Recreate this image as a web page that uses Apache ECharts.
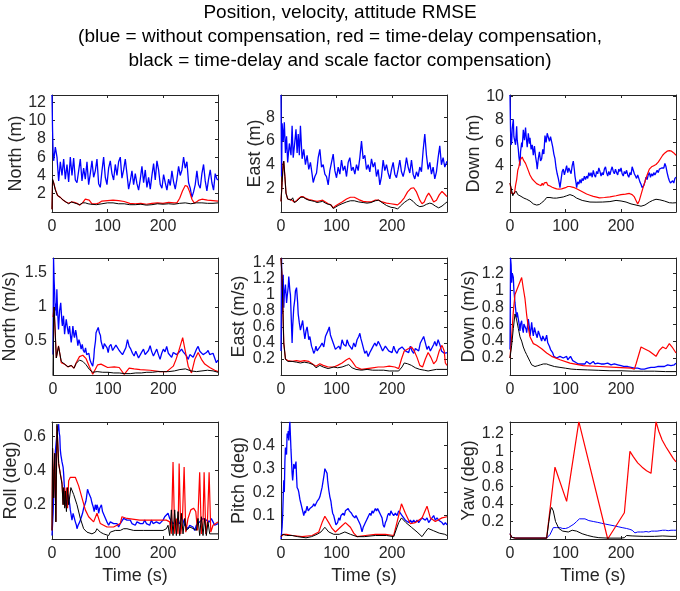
<!DOCTYPE html>
<html><head><meta charset="utf-8">
<script src="https://cdn.jsdelivr.net/npm/echarts@6/dist/echarts.min.js"></script>
<style>html,body{margin:0;padding:0;background:#fff}#c{width:680px;height:591px}</style>
</head><body><div id="c"></div>
<script>
// ---------------- DATA ----------------
const titleLines = [
  'Position, velocity, attitude RMSE',
  '(blue = without compensation, red = time-delay compensation,',
  'black = time-delay and scale factor compensation)'
];
const panelNames = ['North (m)','East (m)','Down (m)','North (m/s)','East (m/s)','Down (m/s)','Roll (deg)','Pitch (deg)','Yaw (deg)'];
const xLabel = 'Time (s)';
const xMax = 299, xStep = 100;
const yMax  = [12.8, 9.9, 10.1, 1.72, 1.46, 1.38, 0.683, 0.499, 1.336];
const yStep = [2, 2, 2, 0.5, 0.2, 0.2, 0.2, 0.1, 0.2];

// North position (m)
const northPosBlue = [[0,12.8],[1,9.0],[2,6.5],[3,5.6],[6,7.1],[9,6.0],[12,3.4],[15,5.5],[18,4.0],[21,5.8],[24,3.6],[27,5.2],[30,3.3],[33,6.0],[36,4.0],[39,5.9],[42,3.5],[45,3.2],[48,4.5],[51,5.8],[54,3.4],[57,4.8],[60,3.6],[63,5.5],[66,3.0],[69,4.2],[72,5.6],[75,3.8],[78,4.5],[81,5.8],[84,3.1],[87,2.7],[90,4.5],[93,6.0],[96,3.8],[99,3.0],[102,4.8],[105,5.6],[108,4.2],[111,3.5],[114,5.2],[117,4.0],[120,5.5],[123,6.0],[126,3.7],[129,4.6],[132,5.8],[135,4.2],[138,2.5],[141,3.4],[144,4.5],[147,3.0],[150,4.2],[153,3.1],[156,2.4],[159,3.6],[162,5.0],[165,3.2],[168,4.6],[171,2.7],[174,3.8],[177,2.5],[180,4.0],[183,5.3],[186,3.5],[189,5.6],[192,4.6],[195,3.0],[198,2.6],[201,4.1],[204,3.2],[207,2.4],[210,3.6],[213,2.9],[216,4.5],[219,3.3],[222,2.5],[225,3.6],[228,5.0],[231,4.0],[234,4.6],[237,6.0],[240,4.8],[243,5.5],[246,3.2],[249,2.6],[252,1.6],[255,2.2],[258,3.0],[261,4.5],[264,3.0],[267,2.6],[270,4.2],[273,5.2],[276,3.4],[279,2.3],[282,3.6],[285,4.6],[288,3.2],[291,2.4],[294,4.2],[297,3.6],[299,3.5]];
const northPosRed = [[0,0.3],[1,3.5],[3,3.2],[6,2.5],[10,1.8],[15,1.6],[20,1.3],[25,1.1],[30,0.95],[35,1.1],[40,1.05],[45,0.95],[50,0.75],[55,1.0],[60,1.4],[63,1.5],[67,1.3],[72,0.9],[80,0.9],[85,1.0],[90,1.2],[100,1.25],[110,1.3],[120,1.25],[130,1.15],[140,0.95],[150,0.9],[160,0.95],[170,0.85],[180,0.95],[190,1.0],[200,0.95],[210,1.05],[220,1.0],[225,1.0],[230,1.5],[235,2.3],[240,2.9],[244,2.8],[248,2.2],[252,1.4],[256,1.0],[260,1.1],[265,1.3],[270,1.4],[280,1.3],[290,1.25],[299,1.2]];
const northPosBlack = [[0,0.3],[1,3.6],[3,3.2],[6,2.4],[10,1.8],[15,1.6],[20,1.3],[25,1.1],[30,0.9],[35,1.1],[40,1.0],[45,0.9],[50,0.8],[55,1.0],[60,1.0],[65,0.9],[70,0.85],[80,0.8],[90,0.9],[100,1.0],[110,1.0],[120,0.9],[130,0.9],[140,0.8],[150,0.8],[160,0.85],[170,0.75],[180,0.8],[190,0.9],[200,0.85],[210,0.9],[220,0.85],[230,0.95],[240,1.0],[250,0.9],[260,1.0],[270,1.0],[280,0.95],[290,0.95],[299,1.0]];

// East position (m)
const eastPosBlue = [[0,9.9],[1,3.0],[2,7.5],[4,6.0],[6,7.6],[8,5.0],[10,6.4],[12,4.2],[15,5.8],[18,4.8],[20,7.3],[22,4.6],[25,6.0],[27,7.0],[29,5.0],[31,6.6],[33,4.8],[35,7.3],[38,4.5],[41,5.3],[44,4.0],[47,4.8],[50,3.6],[53,4.2],[56,3.2],[58,2.5],[61,3.0],[64,3.3],[67,4.6],[70,5.3],[73,3.8],[76,4.0],[79,3.2],[82,3.0],[85,2.3],[88,3.5],[91,4.2],[94,4.9],[97,3.5],[100,2.9],[103,3.8],[106,3.2],[109,4.4],[112,3.5],[115,3.9],[118,3.0],[121,4.2],[124,4.6],[127,3.5],[130,3.8],[133,3.2],[136,4.0],[139,3.5],[142,4.6],[145,6.0],[148,4.5],[151,4.8],[154,3.6],[157,4.0],[160,3.4],[163,4.5],[166,3.8],[169,4.2],[172,3.0],[175,3.6],[178,2.3],[181,3.0],[184,4.4],[187,3.5],[190,4.0],[193,3.3],[196,2.8],[199,3.6],[202,4.2],[205,3.2],[208,2.9],[211,3.6],[214,4.4],[217,3.4],[220,3.0],[223,3.6],[226,4.6],[229,3.8],[232,3.3],[235,4.4],[238,3.2],[241,2.8],[244,3.4],[247,3.0],[250,3.8],[253,3.4],[256,5.2],[259,6.6],[262,4.8],[265,3.6],[268,4.2],[271,3.2],[274,3.8],[277,2.8],[280,3.4],[283,4.6],[286,5.6],[289,4.0],[292,4.6],[295,3.8],[299,4.3]];
const eastPosRed = [[0,0.9],[2,2.5],[4,4.1],[5,4.3],[7,3.0],[9,1.6],[12,1.1],[15,1.1],[18,1.05],[21,1.2],[24,0.85],[28,0.95],[32,1.15],[36,1.3],[40,1.3],[45,1.15],[50,1.05],[55,1.0],[60,0.95],[65,0.9],[70,0.95],[75,1.0],[80,0.85],[85,0.7],[90,0.6],[94,0.35],[98,0.5],[103,0.65],[110,0.85],[118,1.1],[125,1.25],[132,1.25],[140,1.05],[148,0.9],[155,0.85],[162,0.85],[170,1.0],[176,1.0],[182,0.85],[190,0.75],[198,0.7],[205,0.65],[210,0.6],[215,0.8],[222,1.2],[228,1.7],[234,2.0],[239,2.05],[244,1.7],[250,1.0],[254,0.7],[258,0.85],[262,1.3],[266,1.6],[270,1.3],[275,0.85],[280,1.0],[285,1.45],[290,1.75],[295,1.5],[299,1.3]];
const eastPosBlack = [[0,0.9],[2,2.5],[4,4.1],[5,4.3],[7,3.0],[9,1.6],[12,1.1],[15,1.1],[18,1.0],[21,1.2],[24,0.8],[28,0.9],[32,1.1],[36,1.25],[40,1.25],[45,1.1],[50,1.0],[55,0.95],[60,0.9],[65,0.8],[70,0.85],[75,0.9],[80,0.75],[85,0.65],[90,0.6],[94,0.3],[98,0.4],[103,0.55],[110,0.7],[118,0.85],[125,0.95],[132,0.95],[140,0.85],[148,0.8],[155,0.75],[162,0.8],[170,0.95],[176,1.0],[182,0.8],[190,0.55],[198,0.4],[205,0.35],[210,0.25],[215,0.5],[222,0.8],[228,1.0],[232,1.1],[238,0.9],[244,0.6],[250,0.45],[256,0.5],[262,0.65],[268,0.75],[272,0.7],[278,0.5],[284,0.35],[290,0.5],[295,0.7],[299,0.85]];

// Down position (m)
const downPosBlue = [[0,10.1],[1,7.0],[2,5.8],[3,6.0],[4,7.2],[6,8.0],[7,6.5],[9,6.6],[10,5.8],[12,7.4],[13,6.2],[15,5.4],[16,4.8],[18,4.0],[19,5.2],[21,6.0],[22,5.6],[24,7.1],[26,6.2],[28,7.3],[29,6.6],[31,5.6],[33,6.8],[35,5.9],[36,6.4],[38,5.4],[40,5.8],[42,4.9],[44,5.7],[46,4.8],[48,4.2],[49,3.7],[51,4.6],[53,5.2],[55,4.4],[57,4.6],[59,5.4],[61,5.0],[63,6.6],[65,6.0],[67,6.8],[69,6.9],[71,6.1],[73,6.5],[75,6.4],[77,5.6],[79,5.0],[81,4.6],[83,3.8],[85,3.3],[87,2.9],[89,2.4],[90,2.1],[92,2.8],[94,3.5],[96,3.7],[98,3.2],[100,3.6],[102,4.0],[104,3.4],[106,3.8],[108,3.7],[110,3.3],[112,4.0],[114,4.4],[116,3.6],[117,3.1],[119,2.5],[120,2.1],[122,2.6],[124,2.4],[126,2.8],[128,2.5],[130,2.9],[132,2.7],[134,3.1],[136,2.8],[138,3.1],[140,2.9],[142,3.4],[144,3.1],[146,3.4],[148,3.0],[150,3.6],[152,3.2],[154,3.0],[156,3.5],[158,3.3],[160,3.8],[162,3.5],[164,3.1],[166,3.4],[168,3.2],[170,3.7],[172,3.9],[174,3.4],[176,3.1],[178,3.5],[180,3.2],[182,3.6],[184,3.9],[186,3.5],[188,3.3],[190,3.7],[192,3.4],[194,3.2],[196,3.7],[198,3.5],[200,3.8],[202,3.3],[204,3.1],[206,3.5],[208,3.3],[210,3.6],[212,3.2],[214,3.0],[216,3.4],[218,3.2],[220,3.9],[222,3.6],[224,3.3],[226,3.1],[228,2.9],[230,3.2],[232,2.9],[234,2.6],[236,2.4],[238,2.1],[239,2.0],[241,2.3],[243,2.6],[245,3.0],[247,2.8],[249,3.2],[251,3.4],[253,3.0],[255,3.3],[257,3.1],[259,3.4],[261,3.2],[263,3.3],[265,3.6],[267,3.4],[269,3.7],[271,3.6],[273,3.8],[275,3.9],[277,3.8],[279,4.2],[281,3.9],[283,3.4],[285,3.0],[287,2.7],[289,2.5],[291,2.4],[293,2.7],[295,2.5],[297,2.9],[299,3.0]];
const downPosRed = [[0,2.5],[3,1.6],[6,1.5],[8,1.6],[10,2.3],[12,2.8],[14,3.6],[16,3.9],[18,4.45],[20,4.45],[22,4.75],[24,4.5],[26,4.6],[28,4.2],[30,4.15],[32,3.7],[34,3.65],[36,3.2],[38,3.2],[40,2.85],[42,2.95],[44,2.65],[46,2.75],[48,2.45],[50,2.6],[52,2.35],[54,2.5],[56,2.28],[58,2.48],[60,2.3],[62,2.52],[64,2.35],[66,2.55],[68,2.32],[70,2.46],[72,2.24],[74,2.35],[76,2.14],[78,2.26],[80,2.06],[82,2.18],[84,2.0],[86,2.12],[88,1.98],[90,2.1],[93,2.0],[96,2.1],[100,2.1],[104,2.2],[108,2.2],[112,2.15],[116,2.1],[120,2.0],[126,1.85],[132,1.7],[138,1.55],[144,1.45],[150,1.35],[156,1.28],[161,1.22],[170,1.25],[180,1.3],[191,1.4],[200,1.5],[208,1.55],[215,1.6],[220,1.5],[224,1.3],[227,1.0],[230,0.7],[233,1.0],[236,1.5],[239,2.0],[243,2.6],[247,3.2],[251,3.7],[255,3.9],[259,4.0],[263,4.1],[267,4.3],[271,4.6],[275,4.9],[279,5.1],[283,5.25],[287,5.3],[291,5.25],[295,5.1],[299,4.9]];
const downPosBlack = [[0,2.5],[2,2.1],[5,1.4],[7,1.6],[9,1.5],[11,1.8],[12,1.7],[14,1.5],[16,1.6],[18,1.4],[21,1.3],[25,1.2],[30,1.1],[36,0.95],[42,0.7],[48,0.6],[53,0.65],[57,0.8],[62,1.0],[66,1.25],[72,1.25],[78,1.2],[84,1.2],[90,1.25],[96,1.3],[102,1.4],[108,1.5],[114,1.4],[120,1.2],[130,1.0],[144,0.86],[155,0.85],[167,0.86],[180,0.9],[191,1.0],[200,0.95],[209,0.86],[218,0.7],[227,0.6],[236,0.5],[243,0.6],[251,0.85],[257,1.0],[263,1.1],[270,1.05],[278,0.95],[287,0.8],[293,0.78],[299,0.8]];

// North velocity (m/s)
const northVelBlue = [[0,0.3],[1,1.72],[2,1.4],[3,1.2],[4,0.95],[5,1.05],[6,0.87],[7,1.26],[8,1.0],[10,0.67],[12,0.95],[14,1.06],[16,0.8],[17,0.72],[19,0.87],[21,0.6],[22,0.68],[24,0.82],[26,0.7],[28,0.6],[30,0.72],[32,0.55],[33,0.48],[35,0.62],[36,0.72],[38,0.58],[39,0.55],[41,0.66],[42,0.62],[44,0.5],[45,0.43],[47,0.52],[49,0.46],[51,0.38],[53,0.45],[55,0.36],[57,0.33],[59,0.4],[61,0.3],[63,0.28],[65,0.32],[67,0.22],[69,0.18],[71,0.2],[72,0.13],[74,0.26],[75,0.38],[77,0.5],[78,0.62],[80,0.66],[82,0.7],[84,0.62],[86,0.58],[87,0.5],[89,0.44],[91,0.38],[93,0.46],[96,0.48],[98,0.4],[100,0.33],[102,0.42],[105,0.45],[108,0.36],[111,0.38],[114,0.44],[117,0.45],[120,0.36],[123,0.33],[126,0.3],[129,0.28],[132,0.4],[135,0.52],[138,0.42],[141,0.38],[144,0.32],[147,0.28],[150,0.35],[152,0.33],[155,0.25],[158,0.26],[161,0.34],[164,0.38],[167,0.3],[170,0.28],[173,0.36],[176,0.43],[179,0.34],[182,0.28],[185,0.33],[188,0.38],[191,0.3],[194,0.23],[197,0.32],[200,0.38],[203,0.34],[206,0.42],[209,0.32],[212,0.3],[215,0.26],[218,0.33],[221,0.35],[224,0.3],[227,0.28],[230,0.35],[233,0.38],[236,0.34],[239,0.33],[242,0.28],[245,0.23],[248,0.3],[251,0.3],[254,0.26],[257,0.32],[260,0.38],[263,0.42],[266,0.35],[269,0.36],[272,0.3],[275,0.28],[278,0.33],[281,0.36],[284,0.3],[287,0.28],[290,0.32],[293,0.3],[296,0.18],[299,0.22]];
const northVelRed = [[0,0.85],[2,1.0],[6,0.25],[10,0.43],[15,0.18],[21,0.16],[27,0.12],[33,0.14],[38,0.1],[42,0.18],[48,0.27],[54,0.29],[60,0.24],[66,0.12],[72,0.01],[81,0.15],[87,0.16],[99,0.11],[111,0.12],[120,0.11],[129,0.01],[138,0.1],[147,0.09],[158,0.08],[176,0.07],[194,0.05],[206,0.05],[212,0.09],[218,0.13],[223,0.23],[227,0.33],[235,0.55],[239,0.38],[245,0.13],[251,0.03],[257,0.23],[263,0.33],[269,0.23],[275,0.16],[284,0.11],[293,0.07],[299,0.05]];
const northVelBlack = [[0,0.0],[1,0.85],[2,1.0],[6,0.25],[10,0.42],[15,0.2],[21,0.16],[27,0.12],[33,0.14],[38,0.1],[42,0.17],[48,0.22],[54,0.2],[60,0.15],[66,0.08],[72,0.04],[80,0.05],[90,0.04],[100,0.04],[110,0.03],[120,0.03],[130,0.02],[140,0.02],[150,0.03],[160,0.03],[170,0.04],[180,0.04],[190,0.05],[200,0.05],[210,0.05],[220,0.06],[230,0.08],[240,0.09],[250,0.06],[260,0.05],[270,0.06],[280,0.07],[290,0.06],[299,0.04]];

// East velocity (m/s)
const eastVelBlue = [[0,0.3],[1,1.46],[2,0.76],[3,1.1],[4,1.25],[5,0.84],[6,1.0],[8,1.13],[10,0.9],[11,0.97],[13,1.1],[14,1.23],[16,1.05],[17,1.0],[18,0.8],[20,0.4],[21,0.6],[23,0.84],[25,0.95],[26,1.05],[28,1.09],[30,0.9],[31,0.76],[33,0.65],[35,0.56],[37,0.62],[39,0.68],[41,0.55],[43,0.45],[45,0.55],[47,0.6],[49,0.5],[50,0.44],[52,0.48],[55,0.36],[57,0.32],[59,0.27],[61,0.3],[63,0.36],[65,0.3],[68,0.32],[71,0.36],[74,0.4],[77,0.35],[80,0.48],[83,0.5],[85,0.56],[87,0.6],[89,0.5],[92,0.44],[95,0.38],[98,0.32],[101,0.3],[104,0.36],[107,0.32],[110,0.44],[113,0.38],[115,0.4],[117,0.36],[119,0.44],[122,0.38],[125,0.36],[128,0.32],[131,0.4],[134,0.35],[137,0.44],[140,0.48],[142,0.52],[144,0.45],[146,0.4],[149,0.32],[151,0.27],[154,0.3],[157,0.23],[160,0.28],[163,0.32],[166,0.36],[169,0.4],[172,0.36],[175,0.42],[178,0.38],[180,0.35],[183,0.3],[185,0.32],[188,0.36],[191,0.35],[194,0.3],[197,0.32],[200,0.28],[203,0.36],[206,0.3],[209,0.27],[212,0.32],[215,0.3],[218,0.35],[221,0.36],[224,0.3],[227,0.32],[230,0.28],[233,0.36],[236,0.3],[239,0.27],[242,0.33],[245,0.34],[248,0.3],[251,0.4],[254,0.42],[257,0.48],[260,0.4],[263,0.32],[266,0.36],[269,0.3],[272,0.32],[275,0.38],[277,0.42],[280,0.36],[283,0.44],[285,0.46],[287,0.36],[289,0.3],[291,0.32],[294,0.27],[296,0.25],[299,0.28]];
const eastVelRed = [[0,1.46],[2,1.2],[5,0.4],[8,0.2],[12,0.18],[20,0.17],[28,0.18],[35,0.17],[42,0.18],[50,0.17],[58,0.13],[63,0.11],[70,0.14],[76,0.12],[85,0.1],[95,0.1],[102,0.12],[110,0.15],[118,0.19],[123,0.21],[128,0.17],[135,0.1],[145,0.07],[155,0.08],[165,0.09],[175,0.1],[185,0.1],[195,0.11],[205,0.1],[212,0.08],[217,0.2],[222,0.3],[230,0.33],[235,0.35],[240,0.3],[245,0.22],[250,0.12],[255,0.1],[260,0.2],[265,0.28],[270,0.22],[275,0.14],[280,0.18],[285,0.3],[290,0.37],[294,0.3],[296,0.15],[299,0.12]];
const eastVelBlack = [[0,1.46],[2,1.2],[5,0.4],[8,0.2],[12,0.17],[20,0.17],[28,0.16],[35,0.15],[42,0.16],[50,0.15],[58,0.13],[63,0.09],[70,0.12],[76,0.1],[85,0.08],[95,0.1],[102,0.09],[110,0.1],[118,0.12],[122,0.13],[128,0.09],[135,0.07],[145,0.06],[155,0.07],[165,0.06],[175,0.06],[185,0.06],[195,0.05],[205,0.05],[212,0.05],[218,0.1],[222,0.15],[228,0.14],[235,0.12],[242,0.09],[250,0.07],[258,0.06],[265,0.05],[272,0.06],[280,0.07],[290,0.07],[299,0.07]];

// Down velocity (m/s)
const downVelBlue = [[0,0.3],[1,1.38],[2,1.3],[3,1.09],[4,1.2],[6,1.15],[7,1.0],[8,0.98],[9,0.85],[10,0.79],[11,0.72],[12,0.68],[13,0.74],[15,0.75],[16,0.62],[18,0.52],[19,0.6],[21,0.64],[22,0.56],[24,0.5],[25,0.6],[27,0.62],[29,0.54],[30,0.5],[32,0.6],[33,0.66],[35,0.56],[36,0.46],[38,0.55],[39,0.62],[41,0.5],[42,0.46],[44,0.56],[45,0.58],[47,0.48],[49,0.44],[51,0.52],[53,0.52],[55,0.44],[57,0.4],[59,0.46],[61,0.45],[63,0.4],[66,0.47],[68,0.38],[69,0.37],[71,0.34],[73,0.3],[75,0.29],[77,0.26],[79,0.22],[81,0.2],[84,0.2],[87,0.22],[90,0.22],[93,0.2],[96,0.2],[99,0.21],[102,0.22],[104,0.18],[106,0.19],[109,0.22],[111,0.22],[113,0.17],[115,0.16],[118,0.15],[120,0.14],[123,0.13],[126,0.12],[129,0.13],[132,0.14],[135,0.13],[138,0.16],[141,0.14],[144,0.13],[147,0.15],[150,0.16],[153,0.13],[155,0.12],[158,0.14],[161,0.15],[164,0.13],[167,0.14],[170,0.13],[173,0.12],[176,0.14],[179,0.13],[182,0.12],[185,0.11],[188,0.13],[191,0.13],[194,0.12],[197,0.12],[200,0.11],[203,0.11],[206,0.1],[209,0.1],[212,0.1],[215,0.09],[218,0.09],[221,0.08],[224,0.08],[227,0.07],[230,0.08],[233,0.08],[236,0.07],[239,0.08],[242,0.07],[245,0.08],[248,0.08],[251,0.08],[254,0.09],[257,0.08],[260,0.09],[263,0.09],[266,0.1],[269,0.1],[272,0.1],[275,0.11],[278,0.1],[281,0.11],[284,0.12],[287,0.12],[290,0.11],[293,0.11],[296,0.12],[299,0.14]];
const downVelRed = [[0,0.2],[3,0.45],[6,0.75],[9,0.95],[12,1.0],[15,1.05],[18,1.1],[21,1.15],[24,1.02],[27,0.9],[30,0.71],[33,0.56],[36,0.45],[42,0.37],[48,0.35],[57,0.31],[66,0.26],[75,0.22],[90,0.18],[108,0.14],[132,0.11],[161,0.1],[191,0.09],[218,0.08],[224,0.07],[227,0.13],[236,0.33],[242,0.31],[251,0.28],[263,0.22],[269,0.29],[275,0.33],[281,0.31],[287,0.37],[292,0.33],[299,0.26]];
const downVelBlack = [[0,0.2],[3,0.35],[6,0.55],[9,0.72],[12,0.65],[15,0.55],[18,0.45],[21,0.4],[24,0.33],[27,0.28],[30,0.24],[33,0.2],[36,0.16],[39,0.12],[42,0.1],[45,0.1],[50,0.11],[55,0.12],[60,0.13],[66,0.13],[70,0.12],[80,0.1],[90,0.09],[100,0.08],[110,0.07],[120,0.065],[140,0.06],[160,0.055],[180,0.05],[200,0.05],[220,0.045],[240,0.045],[260,0.045],[280,0.04],[299,0.04]];

// Roll (deg)
const rollBlue = [[0,0.02],[2,0.15],[4,0.34],[6,0.51],[8,0.58],[9,0.61],[11,0.65],[12,0.67],[13,0.62],[14,0.6],[15,0.52],[16,0.49],[18,0.45],[20,0.42],[21,0.38],[22,0.32],[24,0.24],[26,0.22],[27,0.2],[29,0.26],[30,0.24],[32,0.2],[33,0.17],[35,0.13],[36,0.11],[38,0.15],[40,0.14],[42,0.1],[44,0.08],[45,0.06],[47,0.08],[48,0.07],[50,0.1],[51,0.11],[53,0.13],[55,0.15],[57,0.18],[59,0.2],[61,0.22],[62,0.24],[64,0.29],[66,0.27],[68,0.26],[70,0.24],[72,0.21],[74,0.19],[76,0.16],[78,0.2],[80,0.17],[81,0.2],[83,0.18],[84,0.15],[86,0.18],[89,0.2],[91,0.16],[93,0.15],[95,0.13],[97,0.12],[99,0.1],[102,0.08],[105,0.1],[108,0.11],[111,0.09],[114,0.08],[117,0.09],[120,0.07],[123,0.09],[126,0.1],[129,0.12],[132,0.13],[135,0.11],[138,0.1],[141,0.11],[144,0.09],[147,0.1],[150,0.08],[153,0.1],[156,0.11],[159,0.09],[161,0.1],[164,0.09],[167,0.11],[170,0.09],[173,0.1],[176,0.08],[179,0.11],[182,0.09],[185,0.08],[188,0.1],[191,0.11],[194,0.09],[197,0.1],[200,0.11],[203,0.13],[206,0.12],[209,0.15],[212,0.12],[215,0.11],[218,0.09],[221,0.08],[224,0.1],[227,0.11],[230,0.09],[233,0.13],[236,0.11],[239,0.08],[242,0.09],[245,0.06],[248,0.08],[251,0.08],[254,0.07],[257,0.05],[260,0.08],[263,0.08],[266,0.1],[269,0.11],[272,0.12],[275,0.13],[278,0.11],[281,0.12],[284,0.1],[287,0.12],[290,0.1],[293,0.08],[296,0.09],[299,0.09]];
const rollRed = [[0,0.05],[1,0.53],[3,0.24],[5,0.5],[7,0.1],[9,0.66],[12,0.44],[15,0.38],[18,0.33],[20,0.2],[22,0.3],[24,0.19],[26,0.3],[28,0.18],[30,0.34],[33,0.36],[36,0.37],[42,0.36],[48,0.31],[54,0.24],[60,0.17],[66,0.13],[75,0.1],[81,0.15],[87,0.09],[99,0.07],[111,0.07],[123,0.09],[126,0.13],[135,0.12],[158,0.11],[182,0.11],[206,0.11],[212,0.1],[215,0.03],[218,0.45],[221,0.03],[224,0.12],[227,0.03],[229,0.44],[232,0.03],[235,0.12],[238,0.42],[241,0.04],[245,0.12],[250,0.17],[255,0.18],[259,0.16],[262,0.05],[266,0.39],[269,0.03],[272,0.1],[274,0.39],[277,0.03],[280,0.1],[283,0.39],[286,0.04],[290,0.08],[295,0.09],[299,0.1]];
const rollBlack = [[0,0.05],[1,0.53],[3,0.24],[5,0.5],[7,0.1],[9,0.67],[12,0.44],[15,0.38],[18,0.32],[20,0.2],[21,0.3],[23,0.18],[24,0.28],[26,0.16],[28,0.3],[30,0.2],[34,0.3],[39,0.26],[45,0.2],[51,0.12],[57,0.06],[63,0.04],[72,0.03],[78,0.04],[81,0.06],[87,0.04],[93,0.03],[102,0.02],[105,0.04],[114,0.05],[123,0.05],[129,0.06],[135,0.06],[147,0.05],[165,0.05],[182,0.05],[200,0.05],[206,0.06],[209,0.08],[212,0.02],[215,0.17],[218,0.02],[221,0.17],[224,0.02],[227,0.16],[230,0.02],[233,0.15],[236,0.03],[239,0.12],[242,0.05],[248,0.07],[255,0.06],[260,0.05],[263,0.12],[266,0.02],[269,0.13],[272,0.02],[275,0.12],[278,0.02],[281,0.1],[284,0.03],[290,0.03],[299,0.03]];

// Pitch (deg)
const pitchBlue = [[0,0.0],[2,0.05],[3,0.1],[4,0.18],[5,0.25],[6,0.2],[7,0.33],[8,0.39],[10,0.36],[11,0.45],[12,0.43],[13,0.46],[14,0.42],[15,0.47],[16,0.5],[17,0.44],[18,0.38],[19,0.33],[20,0.28],[21,0.25],[22,0.28],[23,0.32],[25,0.3],[27,0.33],[28,0.27],[29,0.22],[31,0.21],[32,0.2],[34,0.17],[35,0.16],[37,0.14],[38,0.13],[40,0.11],[41,0.1],[43,0.12],[44,0.11],[46,0.13],[47,0.14],[49,0.12],[50,0.12],[52,0.13],[55,0.13],[57,0.14],[59,0.15],[61,0.14],[63,0.15],[65,0.16],[68,0.17],[70,0.18],[72,0.2],[74,0.22],[76,0.25],[78,0.28],[79,0.3],[81,0.29],[83,0.28],[84,0.25],[86,0.21],[88,0.18],[90,0.16],[91,0.14],[93,0.11],[95,0.1],[97,0.08],[99,0.06],[100,0.06],[102,0.07],[104,0.09],[106,0.08],[108,0.1],[110,0.1],[112,0.11],[114,0.1],[116,0.12],[118,0.12],[121,0.13],[123,0.12],[125,0.12],[127,0.11],[129,0.1],[131,0.1],[133,0.09],[135,0.1],[137,0.09],[139,0.08],[141,0.07],[143,0.06],[145,0.04],[146,0.03],[148,0.05],[150,0.06],[152,0.07],[154,0.08],[156,0.09],[158,0.1],[160,0.11],[162,0.1],[164,0.12],[166,0.11],[168,0.12],[170,0.13],[172,0.12],[174,0.13],[176,0.12],[178,0.12],[180,0.1],[182,0.09],[184,0.06],[186,0.05],[188,0.07],[190,0.08],[192,0.1],[194,0.11],[196,0.1],[198,0.12],[200,0.11],[203,0.1],[206,0.11],[209,0.1],[212,0.12],[215,0.11],[218,0.1],[221,0.09],[224,0.08],[227,0.08],[230,0.07],[233,0.08],[236,0.07],[239,0.08],[242,0.07],[245,0.08],[248,0.07],[251,0.08],[254,0.09],[257,0.09],[260,0.08],[263,0.09],[266,0.07],[269,0.08],[272,0.09],[275,0.1],[278,0.08],[281,0.09],[284,0.08],[287,0.08],[290,0.07],[293,0.06],[296,0.07],[299,0.06]];
const pitchRed = [[0,0.01],[5,0.02],[10,0.02],[20,0.015],[38,0.01],[56,0.015],[68,0.03],[74,0.07],[79,0.097],[86,0.07],[92,0.045],[98,0.03],[107,0.05],[116,0.07],[125,0.05],[131,0.025],[137,0.01],[152,0.015],[170,0.02],[188,0.02],[203,0.015],[212,0.1],[217,0.15],[224,0.11],[233,0.065],[242,0.07],[254,0.09],[263,0.14],[269,0.09],[278,0.075],[290,0.09],[299,0.095]];
const pitchBlack = [[0,0.01],[3,0.02],[10,0.015],[20,0.015],[30,0.01],[45,0.005],[55,0.01],[65,0.02],[72,0.03],[79,0.05],[86,0.03],[95,0.02],[105,0.02],[115,0.03],[125,0.02],[137,0.01],[150,0.01],[170,0.015],[190,0.015],[203,0.01],[212,0.07],[217,0.09],[225,0.07],[235,0.05],[245,0.03],[254,0.01],[260,0.03],[265,0.045],[275,0.035],[285,0.025],[295,0.02],[299,0.015]];

// Yaw (deg)
const yawBlue = [[0,0.06],[3,0.02],[10,0.01],[66,0.01],[72,0.05],[78,0.13],[84,0.13],[90,0.13],[95,0.12],[100,0.12],[105,0.13],[110,0.15],[115,0.17],[120,0.2],[125,0.23],[128,0.24],[135,0.23],[142,0.21],[150,0.2],[158,0.19],[165,0.18],[172,0.17],[180,0.16],[188,0.15],[195,0.14],[202,0.13],[210,0.12],[216,0.11],[220,0.1],[225,0.07],[230,0.08],[235,0.08],[240,0.08],[245,0.085],[250,0.08],[255,0.09],[260,0.09],[265,0.09],[270,0.095],[275,0.1],[280,0.1],[285,0.095],[290,0.1],[295,0.1],[299,0.1]];
const yawRed = [[0,0.06],[3,0.02],[10,0.01],[66,0.01],[81,0.82],[102,0.43],[124,1.34],[176,0.0],[206,0.3],[216,1.0],[222,0.94],[230,0.87],[238,0.82],[246,0.78],[254,0.75],[263,1.34],[268,1.23],[274,1.13],[281,1.05],[288,0.98],[294,0.92],[299,0.88]];
const yawBlack = [[0,0.06],[3,0.02],[10,0.01],[66,0.01],[70,0.2],[73,0.33],[75,0.36],[78,0.32],[82,0.2],[88,0.12],[95,0.09],[105,0.08],[112,0.1],[120,0.09],[130,0.06],[140,0.04],[150,0.025],[160,0.015],[176,0.01],[200,0.01],[206,0.015],[210,0.04],[220,0.035],[240,0.03],[260,0.03],[275,0.035],[290,0.03],[299,0.03]];

const blueSeries  = [northPosBlue, eastPosBlue, downPosBlue, northVelBlue, eastVelBlue, downVelBlue, rollBlue, pitchBlue, yawBlue];
const redSeries   = [northPosRed, eastPosRed, downPosRed, northVelRed, eastVelRed, downVelRed, rollRed, pitchRed, yawRed];
const blackSeries = [northPosBlack, eastPosBlack, downPosBlack, northVelBlack, eastVelBlack, downVelBlack, rollBlack, pitchBlack, yawBlack];

// ---------------- LAYOUT / STYLE ----------------
const FONT = "'Liberation Sans', Arial, Helvetica, sans-serif";
const TXT = '#262626';
const colLeft = [52, 281, 510];
const rowTop = [95, 258, 422];
const W = 166, H = 117;
const nameGaps = [27, 17, 27, 34, 33, 32, 32, 33, 32];
const axisLineStyle = { color: '#262626', width: 1 };

const chart = echarts.init(document.getElementById('c'), null, { renderer: 'canvas' });
const grid = [], xAxis = [], yAxis = [], series = [];
for (let i = 0; i < 9; i++) {
  const r = Math.floor(i / 3), c = i % 3;
  grid.push({ left: colLeft[c], top: rowTop[r], width: W, height: H });
  const common = {
    gridIndex: i, type: 'value', splitLine: { show: false },
    axisLine: { show: true, onZero: false, lineStyle: axisLineStyle },
    axisTick: { show: true, inside: true, length: 3, lineStyle: axisLineStyle }
  };
  xAxis.push(Object.assign({}, common, {
    position: 'bottom', min: 0, max: xMax, interval: xStep,
    axisLabel: { margin: 7, fontSize: 16, color: TXT, fontFamily: FONT, showMaxLabel: false },
    name: r === 2 ? xLabel : '', nameLocation: 'middle', nameGap: 28, nameMoveOverlap: false,
    nameTextStyle: { fontSize: 18, color: TXT, fontFamily: FONT }
  }));
  xAxis.push(Object.assign({}, common, {
    position: 'top', min: 0, max: xMax, interval: xStep, axisLabel: { show: false }
  }));
  yAxis.push(Object.assign({}, common, {
    position: 'left', min: 0, max: yMax[i], interval: yStep[i],
    axisLabel: { margin: 6, fontSize: 16, color: TXT, fontFamily: FONT, showMinLabel: false, showMaxLabel: false },
    name: panelNames[i], nameLocation: 'middle', nameGap: nameGaps[i], nameRotate: 90, nameMoveOverlap: false,
    nameTextStyle: { fontSize: 18, color: TXT, fontFamily: FONT }
  }));
  yAxis.push(Object.assign({}, common, {
    position: 'right', min: 0, max: yMax[i], interval: yStep[i], axisLabel: { show: false }
  }));
  const mk = (data, color, width, z) => ({
    type: 'line', xAxisIndex: 2 * i, yAxisIndex: 2 * i, data: data,
    showSymbol: false, symbol: 'none', animation: false, z: z,
    lineStyle: { color: color, width: width }, itemStyle: { color: color }, silent: true
  });
  series.push(mk(blueSeries[i], '#0000ff', i === 8 ? 1 : 1.3, 2));
  series.push(mk(redSeries[i], '#ff0000', 1.2, 3));
  series.push(mk(blackSeries[i], '#000000', 1, 4));
}

chart.setOption({
  backgroundColor: '#ffffff',
  animation: false,
  title: {
    text: titleLines.join('\n'), left: 'center', top: 1, padding: 0,
    textStyle: { fontFamily: FONT, fontSize: 19, fontWeight: 'normal', lineHeight: 24, color: '#000' }
  },
  grid: grid, xAxis: xAxis, yAxis: yAxis, series: series
});
</script>
</body></html>
